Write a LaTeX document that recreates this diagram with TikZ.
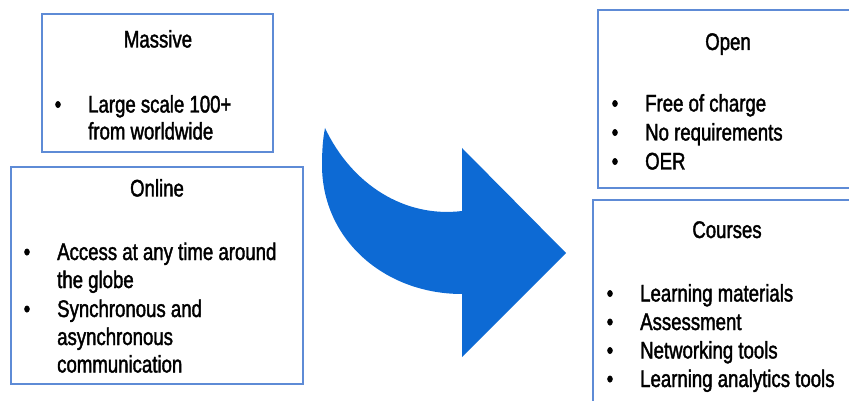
\documentclass[tikz,border=0pt]{standalone}
\usepackage{fontspec}
\setmainfont{Liberation Sans}[FakeStretch=0.775,FakeBold=1.6]
\definecolor{boxblue}{RGB}{94,139,214}
\definecolor{arrowblue}{RGB}{13,106,212}
\tikzset{
  box/.style={draw=boxblue, line width=2.6pt, fill=white, inner sep=0pt},
  txt/.style={inner sep=0pt, anchor=base west, font=\fontsize{24}{28}\selectfont},
  ttl/.style={inner sep=0pt, anchor=base, font=\fontsize{24}{28}\selectfont},
  bul/.style={inner sep=0pt, anchor=base, font=\fontsize{24}{28}\selectfont}
}
\begin{document}
\begin{tikzpicture}[x=1pt,y=-1pt]
\useasboundingbox (0,0) rectangle (849,401);
\clip (0,0) rectangle (849,401);
% boxes
\node[box, minimum width=231pt, minimum height=138pt] (massive) at (157.5,83) {};
\node[box, minimum width=292pt, minimum height=217pt] (online) at (157,275.5) {};
\node[box, minimum width=270pt, minimum height=178pt] (open) at (733,99) {};
\node[box, minimum width=270pt, minimum height=230pt] (courses) at (728,315) {};
% arrow
\fill[arrowblue] (325,128) .. controls (352,185) and (405,218) .. (462,211)
  -- (462,148) -- (566,253) -- (462,357) -- (462,294)
  .. controls (385,294) and (322,240) .. (322,165)
  .. controls (322,150) and (323,138) .. (325,128) -- cycle;
% Massive
\node[ttl] (tm) at (158,47.5) {Massive};
\node[bul] (bm1) at (58,112.5) {•};
\node[txt] (m1a) at (88,112.5) {Large scale 100+};
\node[txt] (m1b) at (88,139.5) {from worldwide};
% Online
\node[ttl] (to) at (157,196.5) {Online};
\node[bul] (bo1) at (27,260) {•};
\node[txt] (o1a) at (57,260) {Access at any time around};
\node[txt] (o1b) at (57,288) {the globe};
\node[bul] (bo2) at (27,317) {•};
\node[txt] (o2a) at (57,317) {Synchronous and};
\node[txt] (o2b) at (57,345) {asynchronous};
\node[txt] (o2c) at (57,372.5) {communication};
% Open
\node[ttl] (tp) at (728,50) {Open};
\node[bul] (bp1) at (615,111.5) {•};
\node[txt] (p1) at (645,111.5) {Free of charge};
\node[bul] (bp2) at (615,140.5) {•};
\node[txt] (p2) at (645,140.5) {No requirements};
\node[bul] (bp3) at (615,169.5) {•};
\node[txt] (p3) at (645,169.5) {OER};
% Courses
\node[ttl] (tc) at (727,238) {Courses};
\node[bul] (bc1) at (610,301.5) {•};
\node[txt] (c1) at (640,301.5) {Learning materials};
\node[bul] (bc2) at (610,330) {•};
\node[txt] (c2) at (640,330) {Assessment};
\node[bul] (bc3) at (610,358.5) {•};
\node[txt] (c3) at (640,358.5) {Networking tools};
\node[bul] (bc4) at (610,387) {•};
\node[txt] (c4) at (640,387) {Learning analytics tools};
\end{tikzpicture}
\end{document}
